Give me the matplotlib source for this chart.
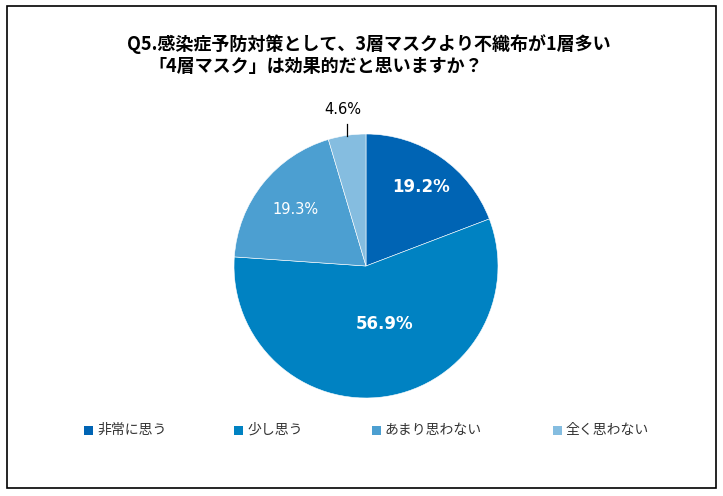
import numpy as np
import matplotlib
matplotlib.use("Agg")
import matplotlib.pyplot as plt
from matplotlib.patches import Rectangle

plt.rcParams['font.family'] = ['Noto Sans CJK JP', 'DejaVu Sans']

categories = ['非常に思う', '少し思う', 'あまり思わない', '全く思わない']
values = [19.2, 56.9, 19.3, 4.6]
colors = ['#0064B4', '#0082C2', '#4C9FD1', '#85BDE0']
title1 = 'Q5.感染症予防対策として、3層マスクより不織布が1層多い'
title2 = '「4層マスク」は効果的だと思いますか？'

W, H = 723, 496
fig = plt.figure(figsize=(W / 100, H / 100), dpi=100)

# outer frame
fig.patches.append(Rectangle((7 / W, 8 / H), 709 / W, 482 / H, transform=fig.transFigure,
                             fill=False, edgecolor='black', linewidth=1.2))

fig.text(127 / W, 1 - 44 / H, title1, fontsize=13, fontweight='bold', ha='left', va='center')
fig.text(148 / W, 1 - 66 / H, title2, fontsize=13, fontweight='bold', ha='left', va='center')

ax = fig.add_axes([234 / W, 98 / H, 264 / W, 264 / H])
wedges, _ = ax.pie(values, colors=colors, startangle=90, counterclock=False,
                   wedgeprops=dict(edgecolor='white', linewidth=0.4))
ax.set_xlim(-1, 1)
ax.set_ylim(-1, 1)
ax.set_aspect('equal')
ax.axis('off')

# label styling: (radius, angle offset deg, color, weight, size)
styles = [
    (0.73, 0.0, 'white', 'bold', 12),
    (0.46, 9.0, 'white', 'bold', 12),
    (0.68, 0.0, 'white', 'normal', 10.5),
    (1.20, 0.0, 'black', 'normal', 10.5),
]
cum = np.cumsum([0] + values)
for i, v in enumerate(values):
    mid = 90 - (cum[i] + v / 2) * 3.6
    r, off, c, wgt, sz = styles[i]
    a = np.deg2rad(mid + off)
    ax.text(r * np.cos(a), r * np.sin(a), f'{v:.1f}%', ha='center', va='center',
            color=c, fontweight=wgt, fontsize=sz, family='DejaVu Sans')
    if i == 3:
        x = 1.0 * np.cos(np.deg2rad(mid))
        ax.plot([x, x], [0.985, 1.075], color='black', linewidth=0.9, clip_on=False)

# legend
leg_x = [84, 234, 372, 553]
for xpx, lab, col in zip(leg_x, categories, colors):
    fig.patches.append(Rectangle((xpx / W, 1 - 435 / H), 9 / W, 9 / H,
                                 transform=fig.transFigure, facecolor=col, edgecolor='none'))
    fig.text((xpx + 13) / W, 1 - 430 / H, lab, fontsize=10, color='#333333',
             ha='left', va='center')

fig.savefig('out.png', dpi=100)
